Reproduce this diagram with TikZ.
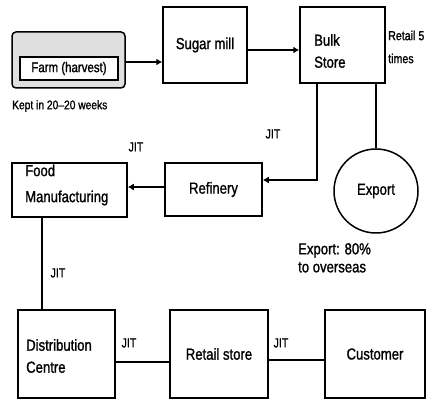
\documentclass[tikz,border=0pt]{standalone}
\usepackage{fontspec}
\setmainfont[FakeStretch=0.82,FakeBold=1.2]{Liberation Sans}
\usetikzlibrary{arrows.meta}
\begin{document}
\begin{tikzpicture}[x=1pt,y=-1pt,
  box/.style={draw, line width=1.5pt, inner sep=0pt},
  txt/.style={font=\fontsize{16}{22}\selectfont, align=left, inner sep=0pt},
  small/.style={font=\fontsize{12.5}{22}\selectfont, align=left, inner sep=0pt},
  link/.style={line width=2.8pt},
  conn/.style={link, -{Latex[length=6pt,width=7pt]}},
]
\useasboundingbox (0,0) rectangle (432,403);
% Farm
\node[box, rounded corners=4pt, fill=gray!25, minimum width=113pt, minimum height=56pt] (farm) at (68.5,60) {};
\node[box, fill=white, minimum width=98pt, minimum height=23pt, font=\fontsize{14}{16}\selectfont] (farmin) at (69,68.5) {Farm (harvest)};
\node[small, anchor=west] (kept) at (12,106) {Kept in 20--20 weeks};
% Sugar mill
\node[box, minimum width=84pt, minimum height=76pt, txt] (sugar) at (205,45) {Sugar mill};
% Bulk store
\node[box, minimum width=85pt, minimum height=76pt] (bulk) at (342.5,45) {};
\node[txt, anchor=west] (bulkt) at (314,51) {Bulk\\Store};
\node[small, font=\fontsize{13}{23}\selectfont, anchor=west] (retail5) at (388,47) {Retail 5\\times};
% Export
\node[draw, circle, line width=1.5pt, minimum size=84pt, inner sep=0pt, txt] (export) at (376,191) {Export};
\node[txt, font=\fontsize{16}{18}\selectfont, anchor=north west] (exportt) at (298,243) {Export: 80\%\\to overseas};
% Refinery
\node[box, minimum width=97pt, minimum height=53pt, txt] (ref) at (213.5,189.5) {Refinery};
% Food manufacturing
\node[box, minimum width=115pt, minimum height=54pt] (food) at (69.5,190) {};
\node[txt, font=\fontsize{16}{26}\selectfont, anchor=west] (foodt) at (25,185) {Food\\Manufacturing};
% Bottom row
\node[box, minimum width=97pt, minimum height=88pt] (dist) at (66.5,354) {};
\node[txt, anchor=west] (distt) at (26,356) {Distribution\\Centre};
\node[box, minimum width=98pt, minimum height=88pt, txt] (retail) at (219,354) {Retail store};
\node[box, minimum width=100pt, minimum height=88pt, txt] (cust) at (375,354) {Customer};
% JIT labels
\node[small, font=\fontsize{13}{15}\selectfont] (j1) at (273,134) {JIT};
\node[small, font=\fontsize{13}{15}\selectfont] (j2) at (136,147) {JIT};
\node[small, font=\fontsize{13}{15}\selectfont] (j3) at (58,273) {JIT};
\node[small, font=\fontsize{13}{15}\selectfont] (j4) at (129,343) {JIT};
\node[small, font=\fontsize{13}{15}\selectfont] (j5) at (281,343) {JIT};
% Connectors
\draw[conn] ([yshift=-2pt]farm.east) -- ([yshift=-2pt]farm.east -| sugar.west);
\draw[conn] ([yshift=-5pt]sugar.east) -- ([yshift=-5pt]bulk.west);
\draw[conn] ([xshift=-25.5pt]bulk.south) |- ([yshift=9.5pt]ref.east);
\draw[link] (export.north |- bulk.south) -- (export.north);
\draw[conn] ([yshift=2.5pt]ref.west) -- ([yshift=2.5pt]ref.west -| food.east);
\draw[link] ([xshift=-27.5pt]food.south) -- ([xshift=-27.5pt]food.south |- dist.north);
\draw[link] ([yshift=-8pt]dist.east) -- ([yshift=-8pt]retail.west);
\draw[link] ([yshift=-6pt]retail.east) -- ([yshift=-6pt]cust.west);
\end{tikzpicture}
\end{document}
